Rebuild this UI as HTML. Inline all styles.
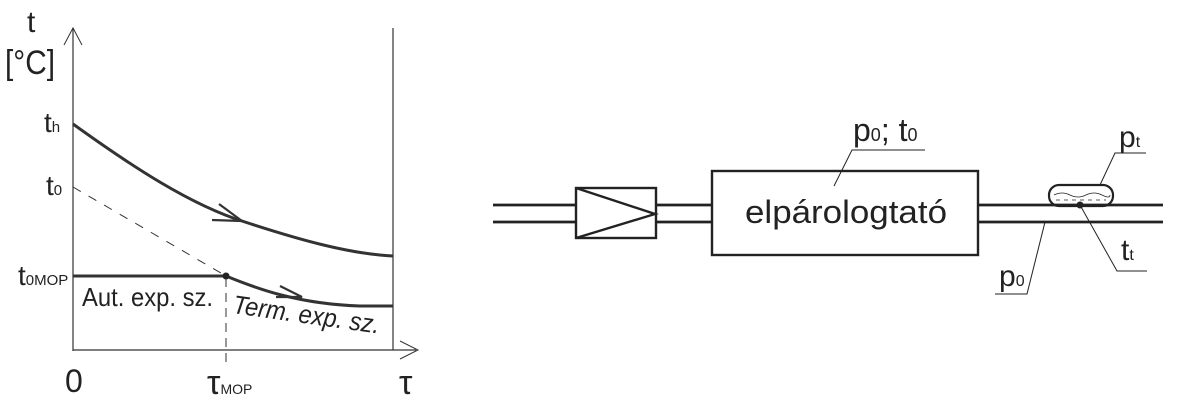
<!DOCTYPE html>
<html><head><meta charset="utf-8"><style>
html,body{margin:0;padding:0;background:#fff;}
svg{display:block;}
text{font-family:"Liberation Sans",sans-serif;fill:#222;}
</style></head><body>
<svg width="1200" height="405" viewBox="0 0 1200 405" xmlns="http://www.w3.org/2000/svg">
<g stroke="#333" fill="none">
<line x1="73" y1="28" x2="73" y2="351" stroke-width="1.2"/>
<polyline points="64,45 73,28 82,45" stroke-width="1"/>
<line x1="73" y1="350" x2="416" y2="350" stroke-width="1.2"/>
<polyline points="400,341 418,350 400,359" stroke-width="1"/>
<line x1="393" y1="28" x2="393" y2="350" stroke-width="1.2"/>
<path d="M73,124 C130,165 190,205 245,222 C300,240 350,254 393,256" stroke-width="3"/>
<polyline points="219,204 242,221 212,220" stroke-width="2.2"/>
<line x1="73" y1="187" x2="226" y2="276" stroke-width="1" stroke-dasharray="9,9"/>
<line x1="73" y1="276" x2="226" y2="276" stroke-width="3"/>
<path d="M226,276 C260,290 300,304 360,306 L393,306" stroke-width="3"/>
<polyline points="280,286 302,297 276,297" stroke-width="2.2"/>
<line x1="226" y1="278" x2="226" y2="365" stroke-width="1" stroke-dasharray="9,6"/>
</g>
<circle cx="226" cy="276" r="3.5" fill="#222"/>
<text x="27" y="32" font-size="30">t</text>
<text x="5" y="74" font-size="34" textLength="50" lengthAdjust="spacingAndGlyphs">[°C]</text>
<text x="44" y="132" font-size="28">t<tspan font-size="15">h</tspan></text>
<text x="46" y="195" font-size="28">t<tspan font-size="15">0</tspan></text>
<text x="18" y="285" font-size="28">t<tspan font-size="15">0MOP</tspan></text>
<text x="82" y="306" font-size="26" textLength="131" lengthAdjust="spacingAndGlyphs">Aut. exp. sz.</text>
<text x="232" y="313" font-size="26" font-style="italic" textLength="148" lengthAdjust="spacingAndGlyphs" transform="rotate(8 232 313)">Term. exp. sz.</text>
<text x="65" y="392" font-size="32">0</text>
<text x="207" y="394" font-size="34">τ<tspan font-size="14">MOP</tspan></text>
<text x="399" y="394" font-size="34">τ</text>

<g stroke="#222" fill="none">
<line x1="493" y1="205" x2="576" y2="205" stroke-width="2.7"/>
<line x1="493" y1="222" x2="576" y2="222" stroke-width="2.7"/>
<rect x="576" y="188" width="80" height="50" stroke-width="2.4"/>
<polyline points="576,188 655,214 576,238" stroke-width="2.4"/>
<line x1="656" y1="205" x2="712" y2="205" stroke-width="2.7"/>
<line x1="656" y1="222" x2="712" y2="222" stroke-width="2.7"/>
<rect x="712" y="171" width="266" height="84" stroke-width="2.4"/>
<line x1="978" y1="205" x2="1163" y2="205" stroke-width="2.7"/>
<line x1="978" y1="222" x2="1163" y2="222" stroke-width="2.7"/>
<rect x="1049" y="185" width="64" height="21" rx="10" stroke-width="2.2"/>
<path d="M1054,195 q8,-4 16,0 t16,0 t16,0 t8,0" stroke-width="0.8"/>
<line x1="1056" y1="200" x2="1106" y2="200" stroke-width="0.8" stroke-dasharray="4,4"/>
<polyline points="834,186 852,150 925,150" stroke-width="1"/>
<polyline points="1100,185 1115,153 1146,153" stroke-width="1"/>
<polyline points="1080,205 1117,271 1147,271" stroke-width="1"/>
<polyline points="1045,222 1027,294 995,294" stroke-width="1"/>
</g>
<circle cx="1080" cy="205" r="3.5" fill="#222"/>
<text x="745" y="223" font-size="32" textLength="202" lengthAdjust="spacingAndGlyphs">elpárologtató</text>
<text x="853" y="141" font-size="32">p<tspan font-size="18">0</tspan>; t<tspan font-size="18">0</tspan></text>
<text x="1119" y="147" font-size="30">p<tspan font-size="16">t</tspan></text>
<text x="1121" y="260" font-size="30">t<tspan font-size="16">t</tspan></text>
<text x="999" y="286" font-size="30">p<tspan font-size="16">0</tspan></text>
</svg>
</body></html>
